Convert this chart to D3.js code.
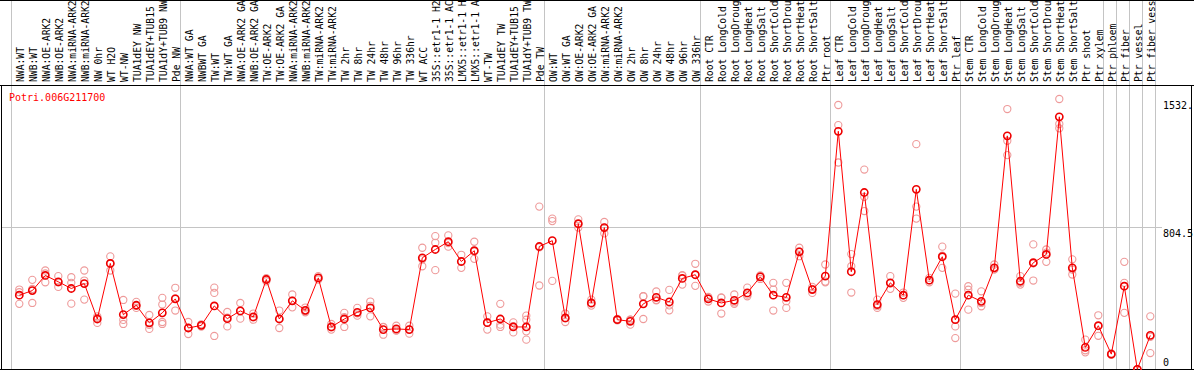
<!DOCTYPE html>
<html>
<head>
<meta charset="utf-8">
<script src="https://cdn.jsdelivr.net/npm/d3@7"></script>
<style>
  body { margin: 0; background: #fff; }
  text { font-family: 'DejaVu Sans Mono', monospace; font-size: 10px; }
  text.sample { font-size: 9.7px; }
</style>
</head>
<body>
<div id="chart"></div>
<script>
const geneName = 'Potri.006G211700';

const categories = [
    'NWA:WT', 'NWB:WT', 'NWA:OE-ARK2', 'NWB:OE-ARK2', 'NWA:miRNA-ARK2', 'NWB:miRNA-ARK2',
    'NW 0hr', 'WT H2O', 'WT-NW', 'TUA1dEY NW', 'TUA1dEY+TUB15 NW', 'TUA1dY+TUB9 NW', 'Pde NW',
    'NWA:WT GA', 'NWBWT GA', 'TW:WT', 'TW:WT GA', 'NWA:OE-ARK2 GA', 'NWB:OE-ARK2 GA',
    'TW:OE-ARK2', 'TW:OE-ARK2 GA', 'NWA:miRNA-ARK2 GA', 'NWB:miRNA-ARK2 GA', 'TW:miRNA-ARK2',
    'TW:miRNA-ARK2 GA', 'TW 2hr', 'TW 8hr', 'TW 24hr', 'TW 48hr', 'TW 96hr', 'TW 336hr',
    'WT ACC', '35S::etr1-1 H2O', '35S::etr1-1 ACC', 'LMX5::etr1-1 H2O', 'LMX5::etr1-1 ACC',
    'WT-TW', 'TUA1dEY TW', 'TUA1dEY+TUB15 TW', 'TUA1dY+TUB9 TW', 'Pde TW',
    'OW:WT', 'OW:WT GA', 'OW:OE-ARK2', 'OW:OE-ARK2 GA', 'OW:miRNA-ARK2', 'OW:miRNA-ARK2 GA',
    'OW 2hr', 'OW 8hr', 'OW 24hr', 'OW 48hr', 'OW 96hr', 'OW 336hr',
    'Root CTR', 'Root LongCold', 'Root LongDrought', 'Root LongHeat', 'Root LongSalt',
    'Root ShortCold', 'Root ShortDrought', 'Root ShortHeat', 'Root ShortSalt', 'Ptr root',
    'Leaf CTR', 'Leaf LongCold', 'Leaf LongDrought', 'Leaf LongHeat', 'Leaf LongSalt',
    'Leaf ShortCold', 'Leaf ShortDrought', 'Leaf ShortHeat', 'Leaf ShortSalt', 'Ptr leaf',
    'Stem CTR', 'Stem LongCold', 'Stem LongDrought', 'Stem LongHeat', 'Stem LongSalt',
    'Stem ShortCold', 'Stem ShortDrought', 'Stem ShortHeat', 'Stem ShortSalt', 'Ptr shoot',
    'Ptr xylem', 'Ptr phloem', 'Ptr fiber', 'Ptr vessel', 'Ptr fiber vessel'
];

// mean expression per sample
const means = [
    420, 446, 532, 496, 458, 486, 285, 600, 310, 363, 263, 320, 399,
    234, 249, 359, 287, 331, 297, 509, 285, 388, 334, 518, 240, 285, 323, 348, 225, 229, 225,
    632, 679, 723, 611, 672, 264, 285, 240, 240, 696,
    729, 291, 825, 376, 803, 281, 272, 371, 408, 382, 515, 536,
    399, 376, 391, 433, 524, 420, 408, 666, 452, 528,
    1349, 553, 1002, 367, 490, 420, 1020, 505, 638, 281,
    420, 385, 575, 1323, 499, 604, 651, 1431, 575, 124,
    247, 86, 471, 0, 192
];

// individual replicates per sample
const replicates = [
    [452, 371, 437], [507, 376, 455], [560, 493, 543], [528, 467, 493], [522, 490, 372],
    [560, 503, 395], [300, 263, 292], [640, 560, 600], [393, 257, 280], [382, 348, 359],
    [308, 229, 252], [405, 367, 268, 257], [462, 333, 402],
    [268, 200, 234], [255, 242, 250], [463, 433, 189], [325, 243, 293], [376, 287, 330],
    [316, 281, 294], [512, 499, 516], [333, 234, 288], [424, 351, 389], [323, 350, 329],
    [528, 509, 517], [257, 225, 238], [320, 240, 295], [348, 304, 317], [384, 300, 360],
    [240, 196, 239], [221, 247, 219], [247, 202, 226], [689, 584, 623], [755, 717, 562],
    [759, 695, 715], [649, 575, 609], [723, 626, 667], [300, 225, 267], [371, 240, 253],
    [266, 209, 245], [304, 281, 215, 168], [922, 475, 691],
    [854, 840, 501], [316, 268, 289], [850, 803, 823], [395, 361, 373], [835, 770, 803],
    [285, 277, 282], [281, 253, 281], [414, 285, 414], [441, 391, 393], [450, 334, 362],
    [533, 480, 531], [598, 473, 536],
    [410, 384, 403], [405, 316, 408], [424, 371, 379], [463, 414, 423], [532, 512, 528],
    [490, 452, 333], [490, 348, 386], [689, 641, 668], [467, 433, 456], [594, 493, 497],
    [1498, 1384, 1172], [653, 584, 435], [1132, 977, 897], [395, 348, 358], [528, 456, 486],
    [435, 405, 420], [1276, 922, 854], [518, 493, 504], [695, 575, 644], [429, 243, 177],
    [471, 338, 451], [442, 376, 357], [594, 566, 566], [1475, 1295, 1214], [528, 480, 490],
    [708, 503, 600], [679, 661, 609], [1532, 1390, 1366], [623, 537, 565], [168, 96, 108],
    [306, 190, 245], [82, 90, 86], [609, 490, 320], [0, 0, 0], [300, 92, 184]
];

// first sample of each block separated by a grid line
const groupStarts = ['NWA:WT', 'NWA:WT GA', 'OW:WT', 'Root CTR', 'Leaf CTR', 'Stem CTR',
    'Ptr phloem', 'Ptr fiber', 'Ptr vessel', 'Ptr fiber vessel'];

const yTickValues = [1532.4, 804.5, 0];
const yTickLabels = ['1532.', '804.5', '0'];
const yDomainMax = 1609;

drawChart('chart');

function drawChart(containerId) {
    const width = 1194;
    const height = 370;
    const plot = { left: 1.5, right: 1191.5, top: 85.5, bottom: 369.5 };
    const labelBase = 82;
    const maxLabelChars = 14; // header is only tall enough for this many

    const svg = d3.select(`#${containerId}`).append('svg')
        .attr('width', width)
        .attr('height', height);

    const xScale = d3.scalePoint()
        .domain(categories)
        .range([19.3, 19.3 + 13 * (categories.length - 1)]);
    const yScale = d3.scaleLinear()
        .domain([0, yDomainMax])
        .range([369.3, 85.4]);
    const step = xScale.step();

    // grid lines
    const gridX = groupStarts.map(c => xScale(c) - 8);
    gridX.push(xScale(categories[categories.length - 1]) + step - 8);
    svg.selectAll('.vgrid').data(gridX).enter().append('line')
        .attr('x1', d => Math.round(d) + 0.5).attr('x2', d => Math.round(d) + 0.5)
        .attr('y1', 0).attr('y2', plot.bottom)
        .attr('stroke', '#c4c4c4').attr('stroke-width', 1);

    svg.append('line')
        .attr('x1', plot.left).attr('x2', 1162)
        .attr('y1', Math.round(yScale(yTickValues[1])) + 0.5)
        .attr('y2', Math.round(yScale(yTickValues[1])) + 0.5)
        .attr('stroke', '#c4c4c4').attr('stroke-width', 1);

    // frame
    const frame = svg.append('g').attr('stroke', '#000').attr('stroke-width', 1);
    frame.append('line').attr('x1', 0).attr('x2', width).attr('y1', 0.5).attr('y2', 0.5);
    frame.append('line').attr('x1', 0).attr('x2', width).attr('y1', plot.top).attr('y2', plot.top);
    frame.append('line').attr('x1', 0).attr('x2', width).attr('y1', plot.bottom).attr('y2', plot.bottom);
    frame.append('line').attr('x1', plot.left).attr('x2', plot.left).attr('y1', plot.top).attr('y2', height);
    frame.append('line').attr('x1', plot.right).attr('x2', plot.right).attr('y1', plot.top).attr('y2', height);

    // sample labels (cut short like the original header)
    svg.selectAll('.sample').data(categories).enter().append('text')
        .attr('class', 'sample')
        .attr('transform', d => `translate(${xScale(d) + 1.5},${labelBase}) rotate(-90)`)
        .attr('dy', '0.35em')
        .attr('fill', '#000')
        .text(d => d.slice(0, maxLabelChars));

    // value labels on the right
    svg.selectAll('.ylab').data(yTickValues).enter().append('text')
        .attr('class', 'ylab')
        .attr('x', 1163)
        .attr('y', d => Math.min(yScale(d) + 10, 366))
        .attr('fill', '#000')
        .text((d, i) => yTickLabels[i]);

    // gene title
    svg.append('text')
        .attr('x', 9).attr('y', 100.5)
        .attr('fill', '#ff0000')
        .text(geneName);

    // replicates
    const repPoints = [];
    replicates.forEach((reps, i) => reps.forEach(v => repPoints.push({ c: categories[i], v })));
    svg.selectAll('.rep').data(repPoints).enter().append('circle')
        .attr('class', 'rep')
        .attr('cx', d => xScale(d.c))
        .attr('cy', d => yScale(d.v))
        .attr('r', 3.6)
        .attr('fill', 'none')
        .attr('stroke', '#ee9a9a')
        .attr('stroke-width', 1.1);

    // mean line
    const meanData = categories.map((c, i) => ({ c, v: means[i] }));
    const line = d3.line().x(d => xScale(d.c)).y(d => yScale(d.v));
    svg.append('path')
        .datum(meanData)
        .attr('d', line)
        .attr('fill', 'none')
        .attr('stroke', '#ff0000')
        .attr('stroke-width', 1);

    svg.selectAll('.mean').data(meanData).enter().append('circle')
        .attr('class', 'mean')
        .attr('cx', d => xScale(d.c))
        .attr('cy', d => yScale(d.v))
        .attr('r', 3.6)
        .attr('fill', 'none')
        .attr('stroke', '#ee0000')
        .attr('stroke-width', 1.6);
}
</script>
</body>
</html>
